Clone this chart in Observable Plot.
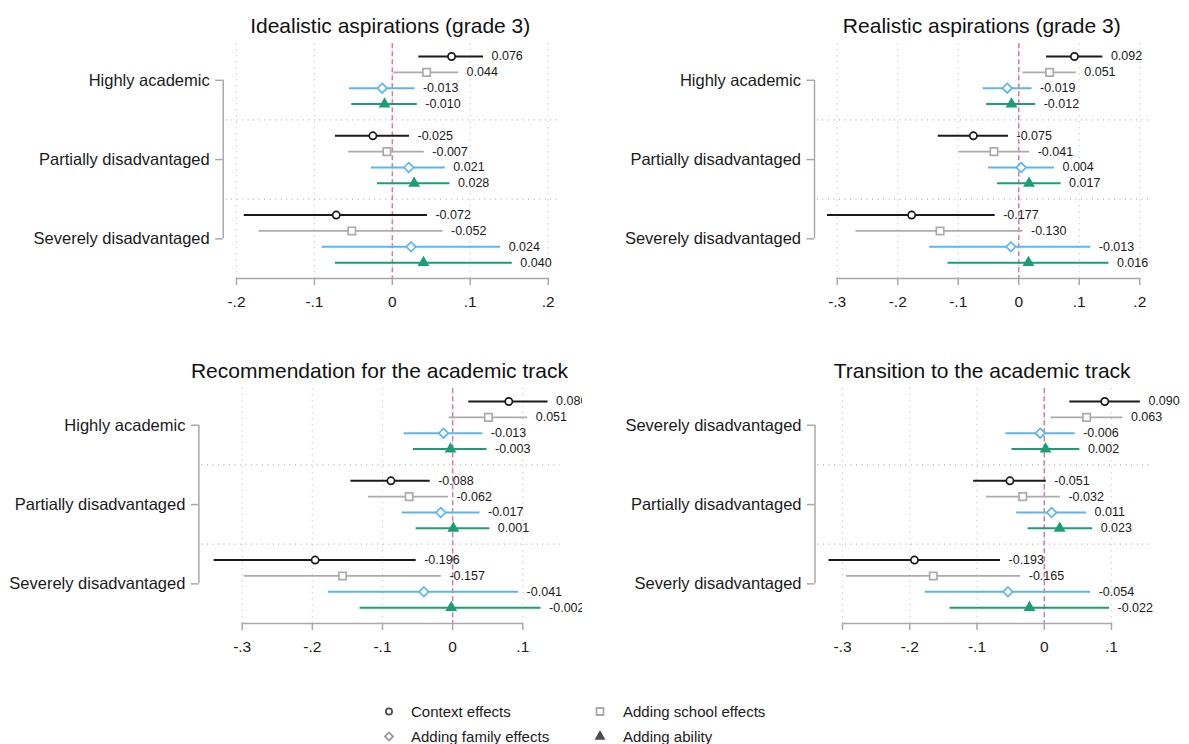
<!DOCTYPE html>
<html>
<head>
<meta charset="utf-8">
<script src="https://cdn.jsdelivr.net/npm/d3@7"></script>
<script src="https://cdn.jsdelivr.net/npm/@observablehq/plot@0.6"></script>
<style>
  body { margin: 0; background: #fff; }
  #page { position: relative; width: 1189px; height: 744px; overflow: hidden; background: #fff;
          font-family: "Liberation Sans", Arial, sans-serif; }
  .panel { position: absolute; overflow: hidden; }
  .panel svg { overflow: hidden; }
</style>
</head>
<body>
<div id="page"></div>
<script>
// ---- Data -----------------------------------------------------------------
// Rows within each group follow the model order in `series`.
const series = ["Context effects", "Adding school effects", "Adding family effects", "Adding ability"];

const idealTitle = "Idealistic aspirations (grade 3)";
const idealGroups = ["Highly academic", "Partially disadvantaged", "Severely disadvantaged"];
const idealEst = [0.076, 0.044, -0.013, -0.010, -0.025, -0.007, 0.021, 0.028, -0.072, -0.052, 0.024, 0.040];
const idealLo  = [0.034, 0.002, -0.055, -0.052, -0.073, -0.056, -0.027, -0.019, -0.190, -0.171, -0.090, -0.073];
const idealHi  = [0.117, 0.085, 0.029, 0.032, 0.022, 0.041, 0.068, 0.074, 0.045, 0.065, 0.139, 0.154];
const idealTicks = [-0.2, -0.1, 0, 0.1, 0.2];

const realTitle = "Realistic aspirations (grade 3)";
const realGroups = ["Highly academic", "Partially disadvantaged", "Severely disadvantaged"];
const realEst = [0.092, 0.051, -0.019, -0.012, -0.075, -0.041, 0.004, 0.017, -0.177, -0.130, -0.013, 0.016];
const realLo  = [0.046, 0.007, -0.059, -0.053, -0.133, -0.099, -0.050, -0.035, -0.316, -0.269, -0.147, -0.117];
const realHi  = [0.139, 0.095, 0.022, 0.028, -0.017, 0.018, 0.059, 0.070, -0.039, 0.007, 0.119, 0.149];
const realTicks = [-0.3, -0.2, -0.1, 0, 0.1, 0.2];

const recTitle = "Recommendation for the academic track";
const recGroups = ["Highly academic", "Partially disadvantaged", "Severely disadvantaged"];
const recEst = [0.080, 0.051, -0.013, -0.003, -0.088, -0.062, -0.017, 0.001, -0.196, -0.157, -0.041, -0.002];
const recLo  = [0.023, -0.005, -0.069, -0.056, -0.145, -0.120, -0.072, -0.052, -0.340, -0.297, -0.177, -0.132];
const recHi  = [0.136, 0.107, 0.043, 0.049, -0.032, -0.006, 0.039, 0.053, -0.052, -0.016, 0.094, 0.126];
const recTicks = [-0.3, -0.2, -0.1, 0, 0.1];

const transTitle = "Transition to the academic track";
const transGroups = ["Severely disadvantaged", "Partially disadvantaged", "Severly disadvantaged"];
const transEst = [0.090, 0.063, -0.006, 0.002, -0.051, -0.032, 0.011, 0.023, -0.193, -0.165, -0.054, -0.022];
const transLo  = [0.038, 0.010, -0.057, -0.048, -0.105, -0.086, -0.041, -0.024, -0.320, -0.294, -0.177, -0.140];
const transHi  = [0.143, 0.117, 0.046, 0.053, 0.003, 0.024, 0.063, 0.072, -0.065, -0.035, 0.069, 0.097];
const transTicks = [-0.3, -0.2, -0.1, 0, 0.1];

// ---- Styles ---------------------------------------------------------------
const seriesColor  = ["#1a1a1a", "#ababab", "#5ab6ec", "#1b9e77"];
const seriesSymbol = ["circle", "square2", "diamond2", "triangle"];
const seriesFilled = [false, false, false, true];
const seriesR      = [3.6, 4.7, 4.3, 3.3];
const legendColor  = ["#4d4d4d", "#ababab", "#9a9a9a", "#4d4d4d"];
const legendSize   = [30, 62, 42, 26];
const axisGray = "#a8a8a8";
const textColor = "#1a1a1a";
const font = "'Liberation Sans', Arial, sans-serif";

// ---- Panel layout ---------------------------------------------------------
const panels = [
  {title: idealTitle, groups: idealGroups, est: idealEst, lo: idealLo, hi: idealHi, ticks: idealTicks,
   left: 0, top: 0, width: 582, marginLeft: 222.7, marginRight: 25.3, tickRange: [236, 547.7]},
  {title: realTitle, groups: realGroups, est: realEst, lo: realLo, hi: realHi, ticks: realTicks,
   left: 590, top: 0, width: 599, marginLeft: 224, marginRight: 40.5, tickRange: [246.7, 549.3]},
  {title: recTitle, groups: recGroups, est: recEst, lo: recLo, hi: recHi, ticks: recTicks,
   left: 0, top: 345, width: 582, marginLeft: 198.4, marginRight: 22.5, tickRange: [241.7, 522.3]},
  {title: transTitle, groups: transGroups, est: transEst, lo: transLo, hi: transHi, ticks: transTicks,
   left: 590, top: 345, width: 599, marginLeft: 224.5, marginRight: 40.2, tickRange: [252, 521]}
];

// Each group takes four row slots plus one empty slot as a gap.
const slotsPerGroup = series.length + 1;
const slotOf = d => d.gi * slotsPerGroup + d.si;
const tickLabel = d => d === 0 ? "0" : d.toFixed(1).replace("0.", ".");

const page = document.getElementById("page");

for (const p of panels) {
  const rows = p.est.map((e, i) => ({
    gi: Math.floor(i / series.length),
    si: i % series.length,
    group: p.groups[Math.floor(i / series.length)],
    series: series[i % series.length],
    est: e, lo: p.lo[i], hi: p.hi[i]
  }));
  const nSlots = p.groups.length * slotsPerGroup - 1;       // last used slot + 1
  const groupSlots = p.groups.map((g, i) => i * slotsPerGroup + (series.length - 1) / 2);
  const sepSlots = p.groups.slice(1).map((g, i) => (i + 1) * slotsPerGroup - 1);
  const xDomain = [p.ticks[0], p.ticks[p.ticks.length - 1]];
  const xLeft = d3.scaleLinear(xDomain, p.tickRange).invert(p.marginLeft);

  const seriesMarks = series.flatMap((s, k) => {
    const sub = rows.filter(d => d.si === k);
    return [
      Plot.ruleY(sub, {y: slotOf, x1: "lo", x2: "hi", stroke: seriesColor[k], strokeWidth: k === 1 ? 1.8 : 2}),
      Plot.dot(sub, {x: "est", y: slotOf, symbol: seriesSymbol[k], r: seriesR[k],
        stroke: seriesColor[k], strokeWidth: 1.7,
        fill: seriesFilled[k] ? seriesColor[k] : "white"})
    ];
  });

  const chart = Plot.plot({
    width: p.width,
    height: 320,
    marginTop: 43.3,
    marginBottom: 42,
    marginLeft: p.marginLeft,
    marginRight: p.marginRight,
    style: {fontFamily: font, background: "transparent", overflow: "hidden"},
    x: {domain: xDomain, range: p.tickRange},
    y: {domain: [-0.8, nSlots], reverse: true},
    marks: [
      // dotted grid at the x ticks
      Plot.ruleX(p.ticks, {stroke: "#c2c2c2", strokeDasharray: "1,5", strokeWidth: 1.2}),
      // dotted separators between groups
      Plot.ruleY(sepSlots, {stroke: "#b4b4b4", strokeDasharray: "1,4.5", strokeWidth: 1.2, insetLeft: 3}),
      // zero reference line
      Plot.ruleX([0], {stroke: "#d77aa6", strokeDasharray: "5,3", strokeWidth: 1.5}),
      // x axis line spanning the tick range
      Plot.ruleY([nSlots], {x1: xDomain[0], x2: xDomain[1], stroke: axisGray, strokeWidth: 1.5}),
      Plot.axisX({ticks: p.ticks, tickFormat: tickLabel, tickSize: 7, tickPadding: 10,
        stroke: axisGray, strokeWidth: 1.5, fill: textColor, fontSize: 15.5, label: null}),
      // group bracket and labels
      Plot.ruleX([xLeft], {y1: groupSlots[0], y2: groupSlots[groupSlots.length - 1], stroke: axisGray, strokeWidth: 1.5}),
      Plot.axisY({ticks: groupSlots, tickFormat: d => p.groups[Math.round((d - groupSlots[0]) / slotsPerGroup)],
        anchor: "left", tickSize: 7.5, tickPadding: 6, stroke: axisGray, strokeWidth: 1.5,
        fill: textColor, fontSize: 16.5, label: null}),
      ...seriesMarks,
      // value labels to the right of each interval
      Plot.text(rows, {x: "hi", y: slotOf, text: d => d.est.toFixed(3), textAnchor: "start", dx: 8,
        fontSize: 12.5, fill: textColor}),
      // panel title
      Plot.text([p.title], {frameAnchor: "top", lineAnchor: "middle", dy: -18, fontSize: 21, fill: "#111"})
    ]
  });

  const holder = document.createElement("div");
  holder.className = "panel";
  holder.style.left = p.left + "px";
  holder.style.top = p.top + "px";
  holder.style.width = p.width + "px";
  holder.style.height = "320px";
  holder.appendChild(chart);
  page.appendChild(holder);
}

// ---- Legend ---------------------------------------------------------------
const legendItems = series.map((s, k) => ({label: s, k, col: k % 2, row: Math.floor(k / 2)}));
const legendColX = [19, 230];
const legendRowY = [21.5, 46.5];
const legend = d3.select(page).append("svg")
  .attr("width", 420).attr("height", 54)
  .style("position", "absolute").style("left", "370px").style("top", "690px")
  .style("font-family", font);
const symbolTypes = [d3.symbolCircle, d3.symbolSquare2, d3.symbolDiamond2, d3.symbolTriangle];
const item = legend.selectAll("g").data(legendItems).join("g")
  .attr("transform", d => `translate(${legendColX[d.col]},${legendRowY[d.row]})`);
item.append("path")
  .attr("d", d => d3.symbol(symbolTypes[d.k], legendSize[d.k])())
  .attr("fill", d => seriesFilled[d.k] ? legendColor[d.k] : "white")
  .attr("stroke", d => legendColor[d.k])
  .attr("stroke-width", 1.8);
item.append("text")
  .attr("x", d => d.col === 0 ? 22 : 23)
  .attr("dy", "0.35em")
  .attr("font-size", 15)
  .attr("fill", textColor)
  .text(d => d.label);
</script>
</body>
</html>
